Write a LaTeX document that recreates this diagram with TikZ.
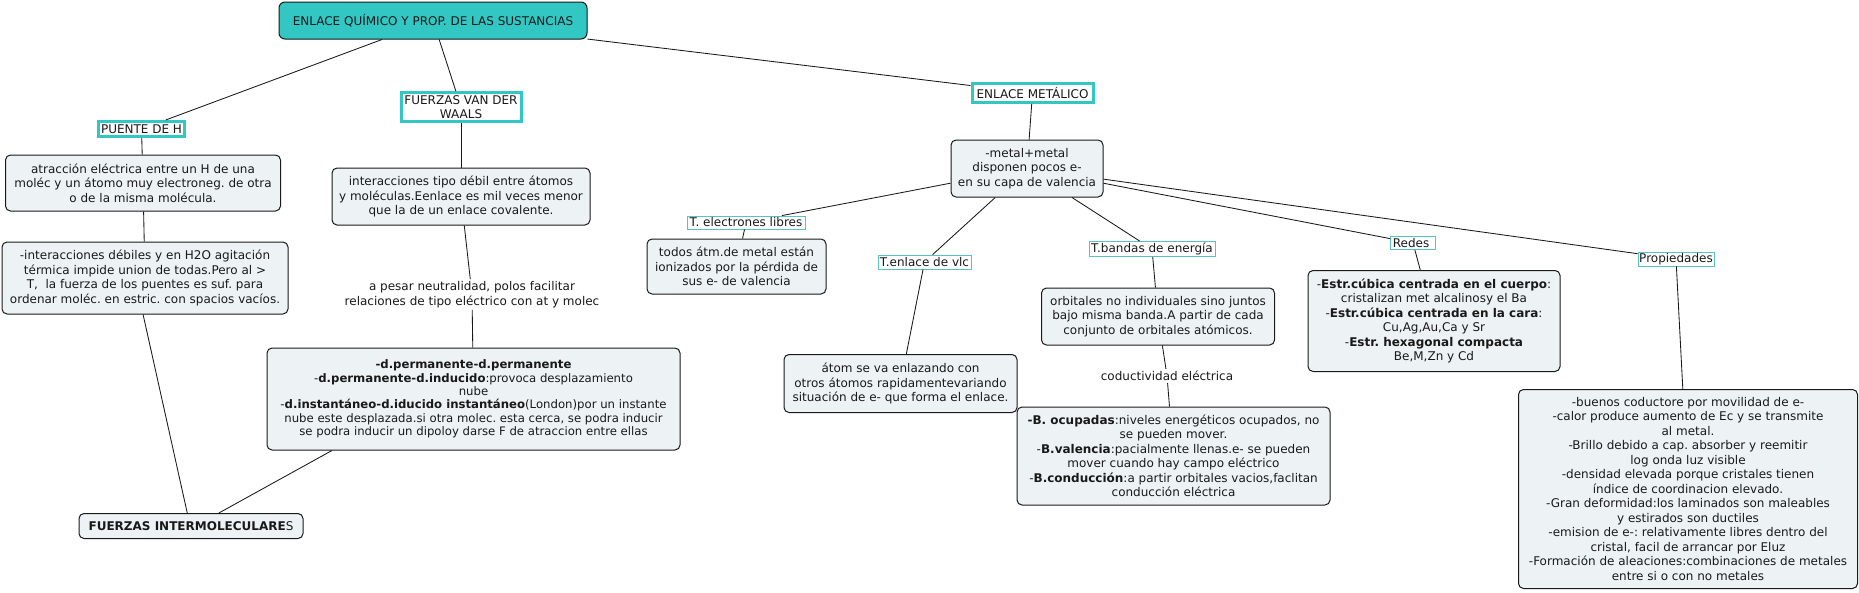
\documentclass[tikz,border=0pt]{standalone}
\usepackage{fontspec}
\setmainfont{DejaVu Sans}
\definecolor{tealA}{RGB}{51,199,196}
\definecolor{boxfill}{RGB}{237,243,245}
\definecolor{lblteal}{RGB}{85,196,196}
\definecolor{ink}{RGB}{25,25,25}
\frenchspacing
\begin{document}
\frenchspacing
\begin{tikzpicture}[x=1pt,y=-1pt,
  every node/.style={text=ink},
  fs/.style={font=\fontsize{12}{14.5}\selectfont\frenchspacing},
  fss/.style={font=\fontsize{11.7}{13.4}\selectfont\frenchspacing},
  concept/.style={draw=ink, fill=boxfill, rounded corners=5pt, line width=1pt, align=center, inner sep=0pt, fs},
  titlebox/.style={draw=ink, fill=tealA, rounded corners=6pt, line width=1pt, align=center, inner sep=0pt, fs},
  thicklbl/.style={draw=tealA, fill=white, line width=3pt, align=center, inner sep=0pt, fs},
  thinlbl/.style={draw=lblteal, fill=white, line width=0.8pt, align=center, inner sep=0pt, fs},
  plainlbl/.style={align=center, inner sep=2pt, fs},
  conn/.style={draw=ink, line width=0.85pt}
]
\fill[white] (0,0) rectangle (1859,592);
\useasboundingbox (0,0) rectangle (1859,592);

% top level
\node[titlebox, minimum width=308pt, minimum height=37pt] (title) at (433,20.5) {ENLACE QUÍMICO Y PROP. DE LAS SUSTANCIAS};
\node[thicklbl, minimum width=86pt, minimum height=15pt] (puente) at (141.5,129) {PUENTE DE H};
\node[thicklbl, minimum width=120pt, minimum height=29pt] (fvw) at (461,107) {FUERZAS VAN DER\\WAALS};
\node[thicklbl, minimum width=121pt, minimum height=19pt] (em) at (1032.5,93) {ENLACE METÁLICO};

% left branch
\node[concept, minimum width=275pt, minimum height=56pt] (atr) at (143,183)
  {atracción eléctrica entre un H de una\\moléc y un átomo muy electroneg. de otra\\o de la misma molécula.};
\node[concept, minimum width=286pt, minimum height=72pt] (idb) at (145,278)
  {-interacciones débiles y en H2O agitación\\térmica impide union de todas.Pero al >\\T,~ la fuerza de los puentes es suf. para\\ordenar moléc. en estric. con spacios vacíos.};
\node[concept, minimum width=224pt, minimum height=25pt] (fi) at (191,526)
  {\textbf{FUERZAS INTERMOLECULARE}S};

% van der waals branch
\node[concept, minimum width=258pt, minimum height=57pt] (itd) at (461,196.5)
  {interacciones tipo débil entre átomos\\y moléculas.Eenlace es mil veces menor\\que la de un enlace covalente.};
\node[plainlbl] (apesar) at (472,294.5)
  {a pesar neutralidad, polos facilitar\\relaciones de tipo eléctrico con at y molec};
\node[concept, fss, minimum width=413pt, minimum height=102pt] (dperm) at (473.5,399)
  {\textbf{-d.permanente-d.permanente}\\-\textbf{d.permanente-d.inducido}:provoca desplazamiento\\nube\\-\textbf{d.instantáneo-d.iducido instantáneo}(London)por un instante\\nube este desplazada.si otra molec. esta cerca, se podra inducir\\se podra inducir un dipoloy darse F de atraccion entre ellas};

% metallic branch
\node[concept, minimum width=152pt, minimum height=57pt] (metal) at (1027,168.5)
  {-metal+metal\\disponen pocos e-\\en su capa de valencia};
\node[thinlbl, minimum width=118pt, minimum height=13pt] (tel) at (746,222.5) {T. electrones libres};
\node[concept, minimum width=179pt, minimum height=55pt] (todos) at (736.5,266.5)
  {todos átm.de metal están\\ionizados por la pérdida de\\sus e- de valencia};
\node[thinlbl, minimum width=93pt, minimum height=14pt] (tenl) at (924.5,262) {T.enlace de vlc};
\node[concept, minimum width=233pt, minimum height=58pt] (atom) at (900.5,383.5)
  {átom se va enlazando con\\otros átomos rapidamentevariando\\situación de e- que forma el enlace.};
\node[thinlbl, minimum width=126pt, minimum height=15pt] (tband) at (1152,249) {T.bandas de energía};
\node[concept, minimum width=233pt, minimum height=57pt] (orb) at (1158,316.5)
  {orbitales no individuales sino juntos\\bajo misma banda.A partir de cada\\conjunto de orbitales atómicos.};
\node[plainlbl] (cond) at (1167,376) {coductividad eléctrica};
\node[concept, minimum width=313pt, minimum height=98pt] (bbox) at (1173.5,456)
  {\textbf{-B. ocupadas}:niveles energéticos ocupados, no\\se pueden mover.\\-\textbf{B.valencia}:pacialmente llenas.e- se pueden\\mover cuando hay campo eléctrico\\-\textbf{B.conducción}:a partir orbitales vacios,faclitan\\conducción eléctrica};
\node[thinlbl, minimum width=45pt, minimum height=13pt] (redes) at (1413,243) {Redes~};
\node[concept, minimum width=252pt, minimum height=101pt] (estr) at (1434,321)
  {-\textbf{Estr.cúbica centrada en el cuerpo}:\\cristalizan met alcalinosy el Ba\\-\textbf{Estr.cúbica centrada en la cara}:\\Cu,Ag,Au,Ca y Sr\\-\textbf{Estr. hexagonal compacta}\\Be,M,Zn y Cd};
\node[thinlbl, minimum width=76pt, minimum height=14pt] (propl) at (1676,259) {Propiedades};
\node[concept, minimum width=339pt, minimum height=199pt] (prop) at (1688,489)
  {-buenos coductore por movilidad de e-\\-calor produce aumento de Ec y se transmite\\al metal.\\-Brillo debido a cap. absorber y reemitir\\log onda luz visible\\-densidad elevada porque cristales tienen\\índice de coordinacion elevado.\\-Gran deformidad:los laminados son maleables\\y estirados son ductiles\\-emision de e-: relativamente libres dentro del\\cristal, facil de arrancar por Eluz\\-Formación de aleaciones:combinaciones de metales\\entre si o con no metales};

% connectors
\draw[conn] (title) -- (puente);
\draw[conn] (title) -- (fvw);
\draw[conn] (title) -- (em);
\draw[conn] (puente) -- (atr);
\draw[conn] (atr) -- (idb);
\draw[conn] (idb.267) -- (fi.106);
\draw[conn] (dperm.200) -- (fi.25);
\draw[conn] (fvw) -- (itd);
\draw[conn] (itd) -- (apesar);
\draw[conn] (apesar) -- (dperm);
\draw[conn] (em) -- (metal);
\draw[conn] (metal) -- (tel);
\draw[conn] (tel) -- (todos);
\draw[conn] (metal) -- (tenl);
\draw[conn] (tenl) -- (atom);
\draw[conn] (metal) -- (tband);
\draw[conn] (tband) -- (orb);
\draw[conn] (orb) -- (cond);
\draw[conn] (cond) -- (bbox);
\draw[conn] (metal) -- (redes);
\draw[conn] (redes) -- (estr);
\draw[conn] (metal) -- (propl);
\draw[conn] (propl) -- (prop);
\end{tikzpicture}
\end{document}
